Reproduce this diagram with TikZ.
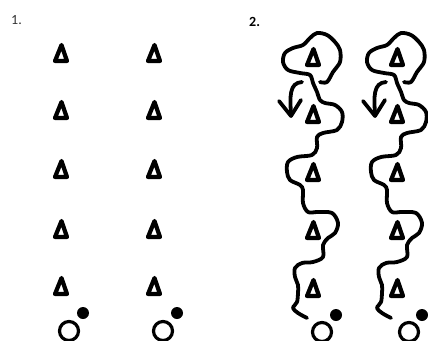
\documentclass[tikz,border=0pt]{standalone}
\usepackage{fontspec}
\setmainfont{Carlito}
\begin{document}
\begin{tikzpicture}[x=1pt,y=-1pt,
  ink/.style={line width=3.8pt,line cap=round,line join=round},
  cone/.pic={\draw[line width=4.2pt,line join=round] (0.5,-8) -- (6,8) -- (-6,8) -- cycle;},
  ball/.style={draw,line width=3.2pt,circle,minimum size=19pt,inner sep=0pt},
  dot/.style={fill,circle,minimum size=12pt,inner sep=0pt},
  lbl/.style={font=\fontsize{14}{16}\selectfont,anchor=west,inner sep=0pt}]
\useasboundingbox (0,0) rectangle (428,340);
\clip (0,0) rectangle (428,340);
% labels
\node[lbl,text=black!80] (l1) at (11,20) {1.};
\node[lbl,font=\fontsize{14}{16}\selectfont\bfseries] (l2) at (249,22) {2.};
% panel 1 cones
\foreach \y [count=\i] in {53,110,169,229,286}{
  \pic (a\i) at (61,\y) {cone};
  \pic (b\i) at (154,\y) {cone};
}
\node[ball] (ba) at (69,331) {};
\node[dot] (da) at (83,313) {};
\node[ball] (bb) at (163,331) {};
\node[dot] (db) at (177,313) {};
% panel 2
\foreach \dx/\n in {0/c,84/d}{
  \begin{scope}[xshift=\dx]
  \foreach \y [count=\i] in {57,114,172,230,288}{
    \pic (\n\i) at (313,\y) {cone};
  }
  \draw[ink] plot[smooth,tension=0.55] coordinates {
    (320,82) (327,82) (333,72) (340,62) (340,50) (335,42) (327,35) (317,33)
    (310,38) (303,45) (293,48) (285,53) (283,62) (288,70) (300,73) (310,75)
    (313,83) (317,92) (320,100) (325,103) (335,105) (342,112) (342,122)
    (337,130) (323,133) (317,137) (317,148) (312,155) (297,157) (288,162)
    (287,172) (290,180) (300,185) (303,190) (303,203) (308,212) (318,212)
    (332,213) (338,223) (335,233) (328,238) (323,245) (323,257) (313,262)
    (302,263) (295,268) (295,277) (298,285) (298,293) (297,302) (293,308)
    (298,313) (307,318)};
  \draw[ink] (302,82) .. controls (289,83) and (290,96) .. (291,115);
  \draw[ink] (279,101) -- (291,116) -- (301,100);
  \end{scope}
}
\node[ball] (bc) at (322,332) {};
\node[dot] (dc) at (336,315) {};
\node[ball] (bd) at (409,332) {};
\node[dot] (dd) at (422,315) {};
\end{tikzpicture}
\end{document}
